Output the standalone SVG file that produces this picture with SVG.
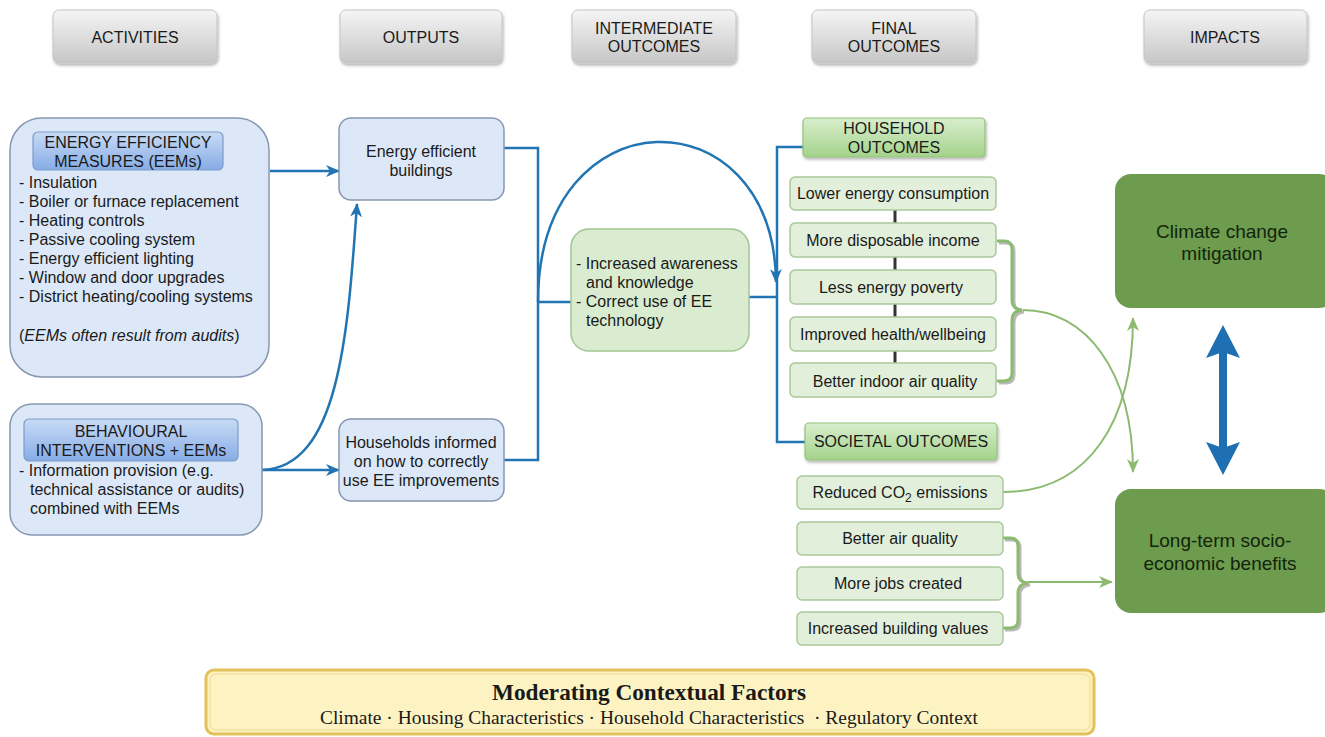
<svg xmlns="http://www.w3.org/2000/svg" width="1325" height="737" viewBox="0 0 1325 737">
<style>
text{font-family:"Liberation Sans",Arial,sans-serif;font-size:16px;fill:#1a1a1a}
.c{text-anchor:middle}
.hdr{fill:url(#gHead);stroke:#c4c4c4;stroke-width:1}
.blue{fill:#dce8f8;stroke:#8797b0;stroke-width:1.5}
.btitle{fill:url(#gBlue);stroke:#7d9bc9;stroke-width:1.2}
.gitem{fill:#e2efdb;stroke:#a9c99b;stroke-width:1.5}
.ghead{fill:url(#gGreen);stroke:#93c27c;stroke-width:1.2}
.imp{fill:#6d9c4e}
.bl{fill:none;stroke:#2275b3;stroke-width:2.5}
.gr{fill:none;stroke:#8cbb70;stroke-width:2}
.brace{fill:none;stroke:#8cbb70;stroke-width:3}
.braceS{fill:none;stroke:#b9b9b9;stroke-width:3}
.sep{stroke:#333;stroke-width:3}
.big{font-size:19px;fill:#13240c}
text.mt{font-family:"Liberation Serif","Times New Roman",serif;font-weight:bold;font-size:23px}
text.ms{font-family:"Liberation Serif","Times New Roman",serif;font-size:19px;white-space:pre}
</style>
<defs>
<linearGradient id="gHead" x1="0" y1="0" x2="0" y2="1"><stop offset="0" stop-color="#f5f5f5"/><stop offset="1" stop-color="#c6c6c6"/></linearGradient>
<linearGradient id="gBlue" x1="0" y1="0" x2="0" y2="1"><stop offset="0" stop-color="#c9dbf5"/><stop offset="1" stop-color="#86ace6"/></linearGradient>
<linearGradient id="gGreen" x1="0" y1="0" x2="0" y2="1"><stop offset="0" stop-color="#d9eecd"/><stop offset="1" stop-color="#a3d38b"/></linearGradient>
<filter id="sh" x="-10%" y="-10%" width="130%" height="140%"><feDropShadow dx="1" dy="2" stdDeviation="1.5" flood-color="#000" flood-opacity="0.3"/></filter>
<marker id="ab" markerUnits="userSpaceOnUse" markerWidth="14" markerHeight="12" refX="13" refY="6" orient="auto"><path d="M0,0 L14,6 L0,12 L4,6 z" fill="#2275b3"/></marker>
<marker id="ag" markerUnits="userSpaceOnUse" markerWidth="14" markerHeight="12" refX="13" refY="6" orient="auto"><path d="M0,0 L14,6 L0,12 L4,6 z" fill="#8cbb70"/></marker>
</defs>
<rect width="1325" height="737" fill="#fff"/>

<g id="headers">
<g id="h-activities"><rect class="hdr" x="53" y="10" width="164" height="53" rx="6" filter="url(#sh)"/><text class="c" x="135" y="43">ACTIVITIES</text></g>
<g id="h-outputs"><rect class="hdr" x="340" y="10" width="162" height="53" rx="6" filter="url(#sh)"/><text class="c" x="421" y="43">OUTPUTS</text></g>
<g id="h-intermediate"><rect class="hdr" x="572" y="10" width="164" height="53" rx="6" filter="url(#sh)"/><text class="c" x="654" y="34">INTERMEDIATE</text><text class="c" x="654" y="52">OUTCOMES</text></g>
<g id="h-final"><rect class="hdr" x="812" y="10" width="164" height="53" rx="6" filter="url(#sh)"/><text class="c" x="894" y="34">FINAL</text><text class="c" x="894" y="52">OUTCOMES</text></g>
<g id="h-impacts"><rect class="hdr" x="1144" y="10" width="163" height="53" rx="6" filter="url(#sh)"/><text class="c" x="1225" y="43">IMPACTS</text></g>
</g>

<g id="connectors">
<path class="bl" d="M270,171 H339" marker-end="url(#ab)"/>
<path class="bl" d="M262,470 H339" marker-end="url(#ab)"/>
<path class="bl" d="M262,470 C340,468 348,330 357,204" marker-end="url(#ab)"/>
<path class="bl" d="M504,148 H538 V460 H504"/>
<path class="bl" d="M538,302 H571"/>
<path class="bl" d="M538,302 C538,92 774,92 776,282" marker-end="url(#ab)"/>
<path class="bl" d="M749,297 H777"/>
<path class="bl" d="M803,147 H777 V442 H805"/>
<line class="sep" x1="895" y1="210" x2="895" y2="223"/>
<line class="sep" x1="895" y1="257" x2="895" y2="270"/>
<line class="sep" x1="895" y1="304" x2="895" y2="317"/>
<line class="sep" x1="895" y1="351" x2="895" y2="363"/>
<path class="braceS" d="M999,243 H1006 Q1014,243 1014,251 V302 Q1014,311 1024,312 Q1014,313 1014,322 V375 Q1014,383 1006,383 H999"/>
<path class="brace" d="M997,241 H1004 Q1012,241 1012,249 V300 Q1012,309 1022,310 Q1012,311 1012,320 V373 Q1012,381 1004,381 H997"/>
<path class="braceS" d="M1005,540 H1012 Q1020,540 1020,548 V575 Q1020,584 1030,585 Q1020,586 1020,595 V622 Q1020,630 1012,630 H1005"/>
<path class="brace" d="M1003,538 H1010 Q1018,538 1018,546 V573 Q1018,582 1028,583 Q1018,584 1018,593 V620 Q1018,628 1010,628 H1003"/>
<path class="gr" d="M1023,310 C1085,310 1133,370 1133,472" marker-end="url(#ag)"/>
<path class="gr" d="M1003,492 C1090,492 1133,420 1133,318" marker-end="url(#ag)"/>
<path class="gr" d="M1028,582 H1112" marker-end="url(#ag)"/>
<g id="blue-double-arrow" fill="#1f6fb3">
<rect x="1219" y="350" width="8" height="100"/>
<polygon points="1223,325 1240,358 1223,352 1206,358"/>
<polygon points="1223,475 1240,442 1223,448 1206,442"/>
</g>
</g>

<g id="eem">
<rect class="blue" x="10" y="118" width="259" height="259" rx="32"/>
<rect class="btitle" x="33" y="132" width="190" height="38" rx="5"/>
<text class="c" x="128" y="148">ENERGY EFFICIENCY</text>
<text class="c" x="128" y="167">MEASURES (EEMs)</text>
<text x="19" y="188">- Insulation</text>
<text x="19" y="207">- Boiler or furnace replacement</text>
<text x="19" y="226">- Heating controls</text>
<text x="19" y="245">- Passive cooling system</text>
<text x="19" y="264">- Energy efficient lighting</text>
<text x="19" y="283">- Window and door upgrades</text>
<text x="19" y="302">- District heating/cooling systems</text>
<text x="19" y="341">(<tspan font-style="italic">EEMs often result from audits</tspan>)</text>
</g>

<g id="behavioural">
<rect class="blue" x="10" y="404" width="252" height="131" rx="22"/>
<rect class="btitle" x="24" y="419" width="214" height="42" rx="5"/>
<text class="c" x="131" y="437">BEHAVIOURAL</text>
<text class="c" x="131" y="456">INTERVENTIONS + EEMs</text>
<text x="19" y="476">- Information provision (e.g.</text>
<text x="30" y="495">technical assistance or audits)</text>
<text x="30" y="514">combined with EEMs</text>
</g>

<g id="ee-buildings">
<rect class="blue" x="339" y="118" width="165" height="82" rx="12"/>
<text class="c" x="421" y="157">Energy efficient</text>
<text class="c" x="421" y="176">buildings</text>
</g>

<g id="households-informed">
<rect class="blue" x="339" y="419" width="165" height="82" rx="12"/>
<text class="c" x="421" y="448">Households informed</text>
<text class="c" x="421" y="467">on how to correctly</text>
<text class="c" x="421" y="486">use EE improvements</text>
</g>

<g id="intermediate">
<rect x="571" y="229" width="178" height="122" rx="18" fill="#d9ecd0" stroke="#a2c693" stroke-width="1.5"/>
<text x="576" y="269">- Increased awareness</text>
<text x="586" y="288">and knowledge</text>
<text x="576" y="307">- Correct use of EE</text>
<text x="586" y="326">technology</text>
</g>

<g id="household-outcomes">
<rect class="ghead" x="803" y="118" width="182" height="39" rx="4" filter="url(#sh)"/>
<text class="c" x="894" y="134">HOUSEHOLD</text>
<text class="c" x="894" y="153">OUTCOMES</text>
</g>
<g id="lower-energy"><rect class="gitem" x="790" y="177" width="206" height="33" rx="5"/><text class="c" x="893" y="199">Lower energy consumption</text></g>
<g id="disposable-income"><rect class="gitem" x="790" y="223" width="206" height="34" rx="5"/><text class="c" x="893" y="246">More disposable income</text></g>
<g id="energy-poverty"><rect class="gitem" x="790" y="270" width="206" height="34" rx="5"/><text class="c" x="891" y="293">Less energy poverty</text></g>
<g id="health"><rect class="gitem" x="790" y="317" width="206" height="34" rx="5"/><text class="c" x="893" y="340">Improved health/wellbeing</text></g>
<g id="indoor-air"><rect class="gitem" x="790" y="363" width="206" height="34" rx="5"/><text class="c" x="895" y="387">Better indoor air quality</text></g>

<g id="societal-outcomes">
<rect class="ghead" x="805" y="423" width="192" height="37" rx="4" filter="url(#sh)"/>
<text class="c" x="901" y="447">SOCIETAL OUTCOMES</text>
</g>
<g id="co2"><rect class="gitem" x="797" y="476" width="206" height="33" rx="5"/><text class="c" x="900" y="498">Reduced CO<tspan style="font-size:12px" dy="4">2</tspan><tspan dy="-4"> emissions</tspan></text></g>
<g id="air-quality"><rect class="gitem" x="797" y="522" width="206" height="33" rx="5"/><text class="c" x="900" y="544">Better air quality</text></g>
<g id="jobs"><rect class="gitem" x="797" y="567" width="206" height="33" rx="5"/><text class="c" x="898" y="589">More jobs created</text></g>
<g id="building-values"><rect class="gitem" x="797" y="612" width="206" height="33" rx="5"/><text class="c" x="898" y="634">Increased building values</text></g>

<g id="climate-mitigation">
<rect class="imp" x="1115" y="174" width="220" height="134" rx="16"/>
<text class="c big" x="1222" y="238">Climate change</text>
<text class="c big" x="1222" y="260">mitigation</text>
</g>
<g id="socio-economic">
<rect class="imp" x="1115" y="489" width="220" height="124" rx="16"/>
<text class="c big" x="1220" y="547">Long-term socio-</text>
<text class="c big" x="1220" y="570">economic benefits</text>
</g>

<g id="moderating">
<rect x="206" y="670" width="888" height="64" rx="8" fill="#fdf3c2" stroke="#e2c25c" stroke-width="3"/>
<rect x="210" y="674" width="880" height="56" rx="6" fill="none" stroke="#f3e3a0" stroke-width="1.5"/>
<text class="c mt" x="649" y="700" textLength="314" lengthAdjust="spacingAndGlyphs">Moderating Contextual Factors</text>
<text class="c ms" x="649" y="724" textLength="658" lengthAdjust="spacingAndGlyphs">Climate · Housing Characteristics · Household Characteristics  · Regulatory Context</text>
</g>
</svg>
